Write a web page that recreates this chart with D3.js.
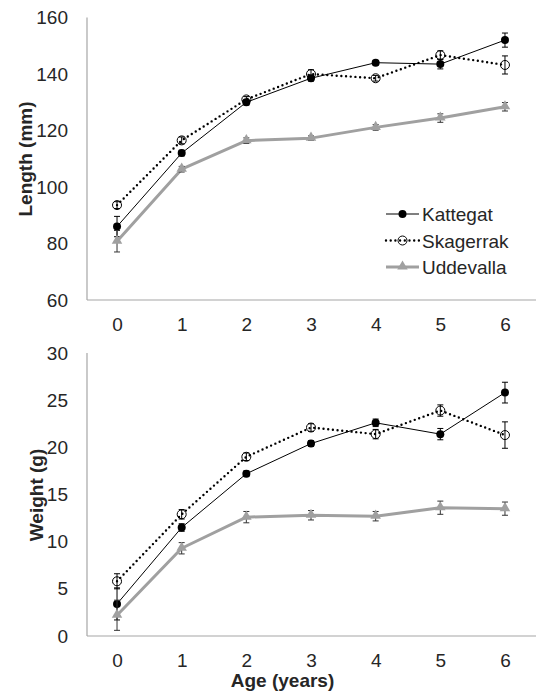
<!DOCTYPE html>
<html>
<head>
<meta charset="utf-8">
<script src="https://cdnjs.cloudflare.com/ajax/libs/d3/7.8.5/d3.min.js"></script>
<style>
  body { margin: 0; background: #fff; }
  text { font-family: "Liberation Sans", Arial, sans-serif; fill: #262626; }
</style>
</head>
<body>
<script>
// growth by age, three sites

var ages = [0, 1, 2, 3, 4, 5, 6];
var seriesNames = ["Kattegat", "Skagerrak", "Uddevalla"];

var lengthKattegat  = [86, 112, 130, 138.5, 144, 143.5, 152];
var lengthSkagerrak = [93.6, 116.5, 131, 140, 138.5, 146.7, 143.2];
var lengthUddevalla = [80.8, 106.3, 116.4, 117.3, 121.1, 124.4, 128.4];
var lengthErrKattegat  = [3.6, 1, 1, 1, 0.8, 1.7, 2.5];
var lengthErrSkagerrak = [1.2, 1.2, 1, 1.5, 1, 1.5, 3.2];
var lengthErrUddevalla = [3.8, 1, 1, 0.8, 1, 1.5, 1.5];
var lengthTicks = [60, 80, 100, 120, 140, 160];

var weightKattegat  = [3.4, 11.5, 17.2, 20.4, 22.6, 21.4, 25.8];
var weightSkagerrak = [5.8, 12.9, 19.0, 22.1, 21.4, 23.9, 21.3];
var weightUddevalla = [2.2, 9.3, 12.6, 12.8, 12.7, 13.6, 13.5];
var weightErrKattegat  = [1.7, 0.4, 0.3, 0.3, 0.4, 0.6, 1.1];
var weightErrSkagerrak = [0.8, 0.5, 0.4, 0.4, 0.5, 0.6, 1.4];
var weightErrUddevalla = [1.6, 0.6, 0.6, 0.5, 0.5, 0.7, 0.7];
var weightTicks = [0, 5, 10, 15, 20, 25, 30];

var width = 536;
var height = 698;
var axisGray = "#a6a6a6";
var lineGray = "#a0a0a0";

var svg = d3.select("body").append("svg")
  .attr("width", width)
  .attr("height", height);

var x = d3.scalePoint().domain(ages).range([84.7, 537.3]).padding(0.5);

var styles = {
  Kattegat:  { stroke: "#000", width: 1, dash: null, err: "#000" },
  Skagerrak: { stroke: "#000", width: 2.4, dash: "0,4.7", err: "#000" },
  Uddevalla: { stroke: lineGray, width: 3, dash: null, err: "#333" }
};

var drawMarker = function(g, name, cx, cy) {
  if (name == "Kattegat") {
    g.append("circle").attr("cx", cx).attr("cy", cy).attr("r", 4)
      .attr("fill", "#000");
  } else if (name == "Skagerrak") {
    g.append("circle").attr("cx", cx).attr("cy", cy).attr("r", 4.5)
      .attr("fill", "none").attr("stroke", "#000").attr("stroke-width", 1);
  } else {
    g.append("path")
      .attr("d", d3.symbol().type(d3.symbolTriangle).size(48)())
      .attr("transform", "translate(" + cx + "," + (cy - 0.5) + ")")
      .attr("fill", lineGray);
  }
};

var drawPanel = function(p) {
  var y = d3.scaleLinear().domain(p.domain).range(p.range);
  var g = svg.append("g");

  // axis lines, no tick marks
  g.append("line").attr("x1", 87).attr("x2", 87)
    .attr("y1", p.range[1]).attr("y2", p.range[0])
    .attr("stroke", axisGray).attr("stroke-width", 1.2);
  g.append("line").attr("x1", 87).attr("x2", width)
    .attr("y1", p.range[0]).attr("y2", p.range[0])
    .attr("stroke", axisGray).attr("stroke-width", 1.2);

  var yAxis = g.append("g").attr("transform", "translate(87,0)")
    .call(d3.axisLeft(y).tickValues(p.ticks).tickSize(0).tickPadding(19));
  var xAxis = g.append("g").attr("transform", "translate(0," + p.range[0] + ")")
    .call(d3.axisBottom(x).tickSize(0).tickPadding(18));
  [yAxis, xAxis].forEach(function(a) {
    a.select(".domain").remove();
    a.selectAll("text").attr("font-size", 19)
      .attr("font-family", "Liberation Sans, Arial, sans-serif").attr("fill", "#262626");
  });

  g.append("text")
    .attr("transform", "translate(" + p.titleX + "," + p.titleY + ") rotate(-90)")
    .attr("text-anchor", "middle")
    .attr("font-size", 19).attr("font-weight", "bold")
    .text(p.title);

  var line = d3.line().x(function(d, i) { return x(ages[i]); }).y(function(d) { return y(d); });

  p.series.forEach(function(s) {
    var st = styles[s.name];
    var sg = g.append("g");
    sg.append("path").datum(s.values)
      .attr("d", line)
      .attr("fill", "none")
      .attr("stroke", st.stroke)
      .attr("stroke-width", st.width)
      .attr("stroke-linecap", st.dash ? "round" : "butt")
      .attr("stroke-linejoin", "round")
      .attr("stroke-dasharray", st.dash);

    // error bars
    s.values.forEach(function(v, i) {
      var cx = x(ages[i]);
      var y0 = y(v - s.err[i]), y1 = y(v + s.err[i]);
      sg.append("line").attr("x1", cx).attr("x2", cx).attr("y1", y0).attr("y2", y1)
        .attr("stroke", st.err).attr("stroke-width", 1);
      [y0, y1].forEach(function(yy) {
        sg.append("line").attr("x1", cx - 3).attr("x2", cx + 3).attr("y1", yy).attr("y2", yy)
          .attr("stroke", st.err).attr("stroke-width", 1);
      });
    });

    s.values.forEach(function(v, i) {
      drawMarker(sg, s.name, x(ages[i]), y(v));
    });
  });
};

drawPanel({
  domain: [60, 160], range: [300, 17.5], ticks: lengthTicks,
  title: "Length (mm)", titleX: 31.5, titleY: 159,
  series: [
    { name: "Kattegat", values: lengthKattegat, err: lengthErrKattegat },
    { name: "Skagerrak", values: lengthSkagerrak, err: lengthErrSkagerrak },
    { name: "Uddevalla", values: lengthUddevalla, err: lengthErrUddevalla }
  ]
});

drawPanel({
  domain: [0, 30], range: [636, 353], ticks: weightTicks,
  title: "Weight (g)", titleX: 43, titleY: 495,
  series: [
    { name: "Kattegat", values: weightKattegat, err: weightErrKattegat },
    { name: "Skagerrak", values: weightSkagerrak, err: weightErrSkagerrak },
    { name: "Uddevalla", values: weightUddevalla, err: weightErrUddevalla }
  ]
});

svg.append("text")
  .attr("x", 282.5).attr("y", 687)
  .attr("text-anchor", "middle")
  .attr("font-size", 19).attr("font-weight", "bold")
  .text("Age (years)");

// legend
var legend = svg.append("g");
seriesNames.forEach(function(name, i) {
  var st = styles[name];
  var ly = 214 + i * 26.5;
  legend.append("line")
    .attr("x1", 386).attr("x2", 419).attr("y1", ly).attr("y2", ly)
    .attr("stroke", st.stroke).attr("stroke-width", st.width)
    .attr("stroke-linecap", st.dash ? "round" : "butt")
    .attr("stroke-dasharray", st.dash);
  drawMarker(legend, name, 402.5, ly);
  legend.append("text")
    .attr("x", 422).attr("y", ly + 7)
    .attr("font-size", 19)
    .text(name);
});
</script>
</body>
</html>
